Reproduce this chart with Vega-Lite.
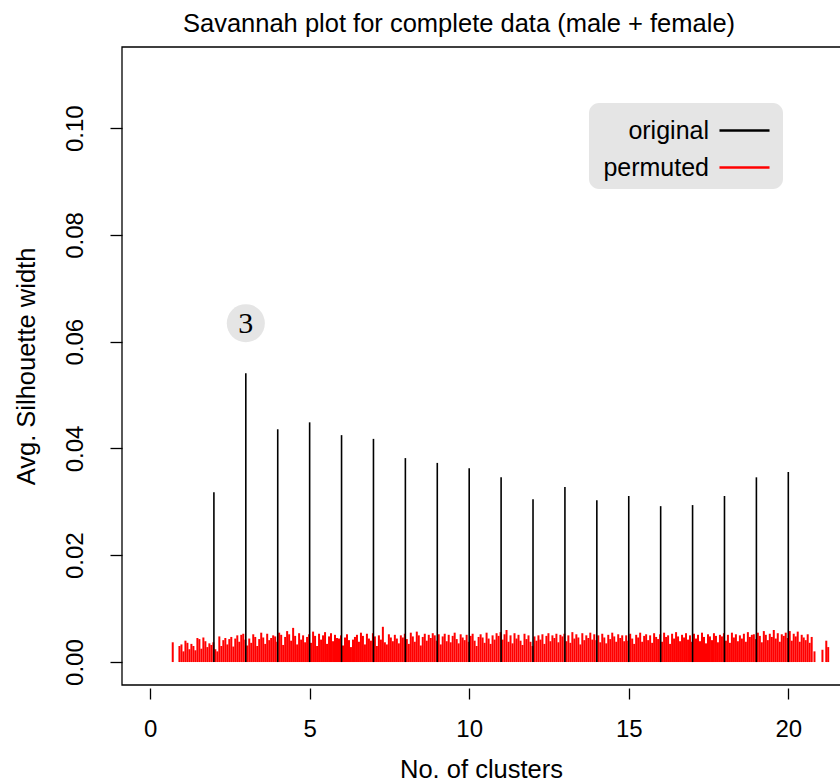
{
  "$schema": "https://vega.github.io/schema/vega-lite/v6.json",
  "autosize": "none",
  "width": 718,
  "height": 638,
  "padding": {"left": 122, "top": 47, "right": 0, "bottom": 97},
  "background": "white",
  "title": {"text": "Savannah plot for complete data (male + female)", "fontSize": 25.5, "font": "Liberation Sans", "fontWeight": "normal", "color": "black", "anchor": "middle", "dx": -22, "offset": 9},
  "config": {
    "view": {"stroke": null},
    "font": "Liberation Sans",
    "axis": {"grid": false, "domainColor": "black", "tickColor": "black", "labelColor": "black", "titleColor": "black", "titleFontWeight": "normal", "labelFont": "Liberation Sans", "titleFont": "Liberation Sans", "labelFontSize": 24, "titleFontSize": 25.5, "tickWidth": 1.3, "domainWidth": 1.3},
    "legend": {"orient": "none", "legendX": 467, "legendY": 56, "symbolType": "M-1.39,0H1.39", "symbolSize": 1296, "symbolStrokeWidth": 2.5, "labelFontSize": 25, "labelFont": "Liberation Sans", "labelColor": "black", "fillColor": "#e5e5e5", "cornerRadius": 10, "padding": 8, "labelAlign": "right", "labelOffset": -55, "symbolOffset": 128, "rowPadding": 4}
  },
  "datasets": {
    "orig": [
      {"k": 2, "sil": 0.0318}, {"k": 3, "sil": 0.0541}, {"k": 4, "sil": 0.0436}, {"k": 5, "sil": 0.0449},
      {"k": 6, "sil": 0.0425}, {"k": 7, "sil": 0.0418}, {"k": 8, "sil": 0.0382}, {"k": 9, "sil": 0.0373},
      {"k": 10, "sil": 0.0363}, {"k": 11, "sil": 0.0346}, {"k": 12, "sil": 0.0305}, {"k": 13, "sil": 0.0328},
      {"k": 14, "sil": 0.0303}, {"k": 15, "sil": 0.0311}, {"k": 16, "sil": 0.0292}, {"k": 17, "sil": 0.0294},
      {"k": 18, "sil": 0.0311}, {"k": 19, "sil": 0.0346}, {"k": 20, "sil": 0.0356}
    ],
    "perm": [
      {"k": 0.71, "sil": 0.0037},
      {"k": 0.92, "sil": 0.0030}, {"k": 0.983, "sil": 0.0033}, {"k": 1.045, "sil": 0.0020}, {"k": 1.108, "sil": 0.0040}, {"k": 1.17, "sil": 0.0036}, {"k": 1.233, "sil": 0.0024}, {"k": 1.295, "sil": 0.0034}, {"k": 1.358, "sil": 0.0030}, {"k": 1.42, "sil": 0.0022}, {"k": 1.483, "sil": 0.0045}, {"k": 1.545, "sil": 0.0043}, {"k": 1.608, "sil": 0.0025}, {"k": 1.67, "sil": 0.0046}, {"k": 1.733, "sil": 0.0039}, {"k": 1.795, "sil": 0.0028}, {"k": 1.858, "sil": 0.0035},
      {"k": 1.92, "sil": 0.0032}, {"k": 1.983, "sil": 0.0037}, {"k": 2.045, "sil": 0.0024}, {"k": 2.108, "sil": 0.0020}, {"k": 2.17, "sil": 0.0048}, {"k": 2.233, "sil": 0.0030}, {"k": 2.295, "sil": 0.0041}, {"k": 2.358, "sil": 0.0045}, {"k": 2.42, "sil": 0.0033}, {"k": 2.483, "sil": 0.0043}, {"k": 2.545, "sil": 0.0047}, {"k": 2.608, "sil": 0.0029}, {"k": 2.67, "sil": 0.0044}, {"k": 2.733, "sil": 0.0050}, {"k": 2.795, "sil": 0.0038}, {"k": 2.858, "sil": 0.0051},
      {"k": 2.92, "sil": 0.0053}, {"k": 2.983, "sil": 0.0042}, {"k": 3.045, "sil": 0.0031}, {"k": 3.108, "sil": 0.0044}, {"k": 3.17, "sil": 0.0036}, {"k": 3.233, "sil": 0.0052}, {"k": 3.295, "sil": 0.0047}, {"k": 3.358, "sil": 0.0030}, {"k": 3.42, "sil": 0.0043}, {"k": 3.483, "sil": 0.0055}, {"k": 3.545, "sil": 0.0046}, {"k": 3.608, "sil": 0.0034}, {"k": 3.67, "sil": 0.0053}, {"k": 3.733, "sil": 0.0041}, {"k": 3.795, "sil": 0.0045}, {"k": 3.858, "sil": 0.0050},
      {"k": 3.92, "sil": 0.0048}, {"k": 3.983, "sil": 0.0038}, {"k": 4.045, "sil": 0.0055}, {"k": 4.108, "sil": 0.0051}, {"k": 4.17, "sil": 0.0032}, {"k": 4.233, "sil": 0.0047}, {"k": 4.295, "sil": 0.0058}, {"k": 4.358, "sil": 0.0052}, {"k": 4.42, "sil": 0.0040}, {"k": 4.483, "sil": 0.0064}, {"k": 4.545, "sil": 0.0049}, {"k": 4.608, "sil": 0.0033}, {"k": 4.67, "sil": 0.0054}, {"k": 4.733, "sil": 0.0042}, {"k": 4.795, "sil": 0.0050}, {"k": 4.858, "sil": 0.0037},
      {"k": 4.92, "sil": 0.0047}, {"k": 4.983, "sil": 0.0052}, {"k": 5.045, "sil": 0.0036}, {"k": 5.108, "sil": 0.0057}, {"k": 5.17, "sil": 0.0049}, {"k": 5.233, "sil": 0.0030}, {"k": 5.295, "sil": 0.0053}, {"k": 5.358, "sil": 0.0042}, {"k": 5.42, "sil": 0.0050}, {"k": 5.483, "sil": 0.0056}, {"k": 5.545, "sil": 0.0034}, {"k": 5.608, "sil": 0.0048}, {"k": 5.67, "sil": 0.0054}, {"k": 5.733, "sil": 0.0039}, {"k": 5.795, "sil": 0.0051}, {"k": 5.858, "sil": 0.0045},
      {"k": 5.92, "sil": 0.0044}, {"k": 5.983, "sil": 0.0050}, {"k": 6.045, "sil": 0.0031}, {"k": 6.108, "sil": 0.0046}, {"k": 6.17, "sil": 0.0052}, {"k": 6.233, "sil": 0.0041}, {"k": 6.295, "sil": 0.0028}, {"k": 6.358, "sil": 0.0042}, {"k": 6.42, "sil": 0.0047}, {"k": 6.483, "sil": 0.0051}, {"k": 6.545, "sil": 0.0038}, {"k": 6.608, "sil": 0.0055}, {"k": 6.67, "sil": 0.0049}, {"k": 6.733, "sil": 0.0033}, {"k": 6.795, "sil": 0.0053}, {"k": 6.858, "sil": 0.0044},
      {"k": 6.92, "sil": 0.0040}, {"k": 6.983, "sil": 0.0054}, {"k": 7.045, "sil": 0.0048}, {"k": 7.108, "sil": 0.0030}, {"k": 7.17, "sil": 0.0050}, {"k": 7.233, "sil": 0.0042}, {"k": 7.295, "sil": 0.0066}, {"k": 7.358, "sil": 0.0037}, {"k": 7.42, "sil": 0.0033}, {"k": 7.483, "sil": 0.0052}, {"k": 7.545, "sil": 0.0046}, {"k": 7.608, "sil": 0.0039}, {"k": 7.67, "sil": 0.0051}, {"k": 7.733, "sil": 0.0044}, {"k": 7.795, "sil": 0.0035}, {"k": 7.858, "sil": 0.0050},
      {"k": 7.92, "sil": 0.0046}, {"k": 7.983, "sil": 0.0053}, {"k": 8.045, "sil": 0.0043}, {"k": 8.108, "sil": 0.0034}, {"k": 8.17, "sil": 0.0055}, {"k": 8.233, "sil": 0.0048}, {"k": 8.295, "sil": 0.0038}, {"k": 8.358, "sil": 0.0057}, {"k": 8.42, "sil": 0.0050}, {"k": 8.483, "sil": 0.0031}, {"k": 8.545, "sil": 0.0047}, {"k": 8.608, "sil": 0.0053}, {"k": 8.67, "sil": 0.0040}, {"k": 8.733, "sil": 0.0051}, {"k": 8.795, "sil": 0.0045}, {"k": 8.858, "sil": 0.0054},
      {"k": 8.92, "sil": 0.0050}, {"k": 8.983, "sil": 0.0040}, {"k": 9.045, "sil": 0.0052}, {"k": 9.108, "sil": 0.0033}, {"k": 9.17, "sil": 0.0048}, {"k": 9.233, "sil": 0.0053}, {"k": 9.295, "sil": 0.0039}, {"k": 9.358, "sil": 0.0051}, {"k": 9.42, "sil": 0.0037}, {"k": 9.483, "sil": 0.0049}, {"k": 9.545, "sil": 0.0055}, {"k": 9.608, "sil": 0.0043}, {"k": 9.67, "sil": 0.0035}, {"k": 9.733, "sil": 0.0052}, {"k": 9.795, "sil": 0.0046}, {"k": 9.858, "sil": 0.0041},
      {"k": 9.92, "sil": 0.0051}, {"k": 9.983, "sil": 0.0038}, {"k": 10.045, "sil": 0.0049}, {"k": 10.108, "sil": 0.0053}, {"k": 10.17, "sil": 0.0040}, {"k": 10.233, "sil": 0.0030}, {"k": 10.295, "sil": 0.0047}, {"k": 10.358, "sil": 0.0052}, {"k": 10.42, "sil": 0.0046}, {"k": 10.483, "sil": 0.0036}, {"k": 10.545, "sil": 0.0055}, {"k": 10.608, "sil": 0.0044}, {"k": 10.67, "sil": 0.0034}, {"k": 10.733, "sil": 0.0050}, {"k": 10.795, "sil": 0.0042}, {"k": 10.858, "sil": 0.0054},
      {"k": 10.92, "sil": 0.0049}, {"k": 10.983, "sil": 0.0056}, {"k": 11.045, "sil": 0.0042}, {"k": 11.108, "sil": 0.0052}, {"k": 11.17, "sil": 0.0060}, {"k": 11.233, "sil": 0.0038}, {"k": 11.295, "sil": 0.0050}, {"k": 11.358, "sil": 0.0035}, {"k": 11.42, "sil": 0.0054}, {"k": 11.483, "sil": 0.0044}, {"k": 11.545, "sil": 0.0051}, {"k": 11.608, "sil": 0.0040}, {"k": 11.67, "sil": 0.0032}, {"k": 11.733, "sil": 0.0053}, {"k": 11.795, "sil": 0.0043}, {"k": 11.858, "sil": 0.0050},
      {"k": 11.92, "sil": 0.0038}, {"k": 11.983, "sil": 0.0030}, {"k": 12.045, "sil": 0.0048}, {"k": 12.108, "sil": 0.0040}, {"k": 12.17, "sil": 0.0050}, {"k": 12.233, "sil": 0.0042}, {"k": 12.295, "sil": 0.0052}, {"k": 12.358, "sil": 0.0034}, {"k": 12.42, "sil": 0.0049}, {"k": 12.483, "sil": 0.0054}, {"k": 12.545, "sil": 0.0039}, {"k": 12.608, "sil": 0.0050}, {"k": 12.67, "sil": 0.0045}, {"k": 12.733, "sil": 0.0053}, {"k": 12.795, "sil": 0.0037}, {"k": 12.858, "sil": 0.0051},
      {"k": 12.92, "sil": 0.0048}, {"k": 12.983, "sil": 0.0053}, {"k": 13.045, "sil": 0.0039}, {"k": 13.108, "sil": 0.0050}, {"k": 13.17, "sil": 0.0036}, {"k": 13.233, "sil": 0.0056}, {"k": 13.295, "sil": 0.0044}, {"k": 13.358, "sil": 0.0052}, {"k": 13.42, "sil": 0.0046}, {"k": 13.483, "sil": 0.0033}, {"k": 13.545, "sil": 0.0054}, {"k": 13.608, "sil": 0.0041}, {"k": 13.67, "sil": 0.0050}, {"k": 13.733, "sil": 0.0045}, {"k": 13.795, "sil": 0.0055}, {"k": 13.858, "sil": 0.0042},
      {"k": 13.92, "sil": 0.0052}, {"k": 13.983, "sil": 0.0041}, {"k": 14.045, "sil": 0.0050}, {"k": 14.108, "sil": 0.0037}, {"k": 14.17, "sil": 0.0053}, {"k": 14.233, "sil": 0.0046}, {"k": 14.295, "sil": 0.0035}, {"k": 14.358, "sil": 0.0051}, {"k": 14.42, "sil": 0.0043}, {"k": 14.483, "sil": 0.0055}, {"k": 14.545, "sil": 0.0048}, {"k": 14.608, "sil": 0.0038}, {"k": 14.67, "sil": 0.0052}, {"k": 14.733, "sil": 0.0045}, {"k": 14.795, "sil": 0.0050}, {"k": 14.858, "sil": 0.0039},
      {"k": 14.92, "sil": 0.0050}, {"k": 14.983, "sil": 0.0040}, {"k": 15.045, "sil": 0.0053}, {"k": 15.108, "sil": 0.0044}, {"k": 15.17, "sil": 0.0034}, {"k": 15.233, "sil": 0.0051}, {"k": 15.295, "sil": 0.0046}, {"k": 15.358, "sil": 0.0055}, {"k": 15.42, "sil": 0.0038}, {"k": 15.483, "sil": 0.0049}, {"k": 15.545, "sil": 0.0052}, {"k": 15.608, "sil": 0.0041}, {"k": 15.67, "sil": 0.0050}, {"k": 15.733, "sil": 0.0036}, {"k": 15.795, "sil": 0.0054}, {"k": 15.858, "sil": 0.0047},
      {"k": 15.92, "sil": 0.0043}, {"k": 15.983, "sil": 0.0052}, {"k": 16.045, "sil": 0.0038}, {"k": 16.108, "sil": 0.0055}, {"k": 16.17, "sil": 0.0047}, {"k": 16.233, "sil": 0.0050}, {"k": 16.295, "sil": 0.0034}, {"k": 16.358, "sil": 0.0053}, {"k": 16.42, "sil": 0.0044}, {"k": 16.483, "sil": 0.0056}, {"k": 16.545, "sil": 0.0048}, {"k": 16.608, "sil": 0.0039}, {"k": 16.67, "sil": 0.0051}, {"k": 16.733, "sil": 0.0046}, {"k": 16.795, "sil": 0.0054}, {"k": 16.858, "sil": 0.0042},
      {"k": 16.92, "sil": 0.0050}, {"k": 16.983, "sil": 0.0038}, {"k": 17.045, "sil": 0.0053}, {"k": 17.108, "sil": 0.0044}, {"k": 17.17, "sil": 0.0051}, {"k": 17.233, "sil": 0.0039}, {"k": 17.295, "sil": 0.0055}, {"k": 17.358, "sil": 0.0047}, {"k": 17.42, "sil": 0.0035}, {"k": 17.483, "sil": 0.0052}, {"k": 17.545, "sil": 0.0048}, {"k": 17.608, "sil": 0.0041}, {"k": 17.67, "sil": 0.0054}, {"k": 17.733, "sil": 0.0049}, {"k": 17.795, "sil": 0.0037}, {"k": 17.858, "sil": 0.0051},
      {"k": 17.92, "sil": 0.0048}, {"k": 17.983, "sil": 0.0054}, {"k": 18.045, "sil": 0.0040}, {"k": 18.108, "sil": 0.0051}, {"k": 18.17, "sil": 0.0036}, {"k": 18.233, "sil": 0.0055}, {"k": 18.295, "sil": 0.0046}, {"k": 18.358, "sil": 0.0052}, {"k": 18.42, "sil": 0.0039}, {"k": 18.483, "sil": 0.0050}, {"k": 18.545, "sil": 0.0044}, {"k": 18.608, "sil": 0.0053}, {"k": 18.67, "sil": 0.0038}, {"k": 18.733, "sil": 0.0056}, {"k": 18.795, "sil": 0.0047}, {"k": 18.858, "sil": 0.0051},
      {"k": 18.92, "sil": 0.0052}, {"k": 18.983, "sil": 0.0043}, {"k": 19.045, "sil": 0.0055}, {"k": 19.108, "sil": 0.0049}, {"k": 19.17, "sil": 0.0037}, {"k": 19.233, "sil": 0.0058}, {"k": 19.295, "sil": 0.0051}, {"k": 19.358, "sil": 0.0041}, {"k": 19.42, "sil": 0.0053}, {"k": 19.483, "sil": 0.0047}, {"k": 19.545, "sil": 0.0060}, {"k": 19.608, "sil": 0.0044}, {"k": 19.67, "sil": 0.0054}, {"k": 19.733, "sil": 0.0038}, {"k": 19.795, "sil": 0.0052}, {"k": 19.858, "sil": 0.0049},
      {"k": 19.92, "sil": 0.0055}, {"k": 19.983, "sil": 0.0045}, {"k": 20.045, "sil": 0.0058}, {"k": 20.108, "sil": 0.0040}, {"k": 20.17, "sil": 0.0053}, {"k": 20.233, "sil": 0.0048}, {"k": 20.295, "sil": 0.0057}, {"k": 20.358, "sil": 0.0038}, {"k": 20.42, "sil": 0.0051}, {"k": 20.483, "sil": 0.0046}, {"k": 20.545, "sil": 0.0041}, {"k": 20.608, "sil": 0.0052}, {"k": 20.67, "sil": 0.0036}, {"k": 20.733, "sil": 0.0047},
      {"k": 20.82, "sil": 0.0020}, {"k": 21.07, "sil": 0.0023}, {"k": 21.19, "sil": 0.0040}, {"k": 21.25, "sil": 0.0028}
    ]
  },
  "layer": [
    {
      "data": {"name": "perm"},
      "mark": {"type": "rule", "strokeWidth": 2},
      "encoding": {
        "x": {"field": "k", "type": "quantitative", "title": "No. of clusters", "scale": {"domain": [-0.88, 21.62], "nice": false, "zero": false},
              "axis": {"values": [0, 5, 10, 15, 20], "domain": false, "offset": 3, "tickSize": 11, "labelPadding": 18, "titlePadding": 16, "labelFlush": false}},
        "y": {"field": "sil", "type": "quantitative", "title": "Avg. Silhouette width", "scale": {"domain": [-0.0043, 0.1152], "nice": false, "zero": false},
              "axis": {"values": [0, 0.02, 0.04, 0.06, 0.08, 0.1], "format": ".2f", "domain": false, "tickSize": 12, "labelAngle": -90, "labelAlign": "center", "labelBaseline": "bottom", "labelPadding": 23, "titlePadding": 24, "labelFlush": false}},
        "y2": {"datum": 0},
        "color": {"datum": "permuted", "type": "nominal", "scale": {"domain": ["original", "permuted"], "range": ["black", "#ff0000"]}, "legend": {"title": null}}
      }
    },
    {
      "data": {"name": "orig"},
      "mark": {"type": "rule", "strokeWidth": 1.6},
      "encoding": {
        "x": {"field": "k", "type": "quantitative", "title": "No. of clusters"},
        "y": {"field": "sil", "type": "quantitative", "title": "Avg. Silhouette width"},
        "y2": {"datum": 0},
        "color": {"datum": "original", "type": "nominal"}
      }
    },
    {
      "data": {"name": "orig"},
      "transform": [{"filter": "datum.k == 3"}],
      "mark": {"type": "point", "filled": true, "color": "#e5e5e5", "opacity": 1, "size": 1450, "yOffset": -50},
      "encoding": {
        "x": {"field": "k", "type": "quantitative", "title": "No. of clusters"},
        "y": {"field": "sil", "type": "quantitative", "title": "Avg. Silhouette width"}
      }
    },
    {
      "data": {"name": "orig"},
      "transform": [{"filter": "datum.k == 3"}],
      "mark": {"type": "text", "font": "Liberation Serif", "fontSize": 30, "color": "black", "yOffset": -49, "baseline": "middle", "align": "center"},
      "encoding": {
        "x": {"field": "k", "type": "quantitative", "title": "No. of clusters"},
        "y": {"field": "sil", "type": "quantitative", "title": "Avg. Silhouette width"},
        "text": {"field": "k", "type": "quantitative"}
      }
    },
    {
      "data": {"values": [{}]},
      "mark": {"type": "rect", "filled": false, "stroke": "black", "strokeWidth": 1.3},
      "encoding": {
        "x": {"datum": -0.88, "type": "quantitative", "title": "No. of clusters"},
        "x2": {"datum": 22.88},
        "y": {"datum": -0.0043, "type": "quantitative", "title": "Avg. Silhouette width"},
        "y2": {"datum": 0.1152}
      }
    }
  ]
}
